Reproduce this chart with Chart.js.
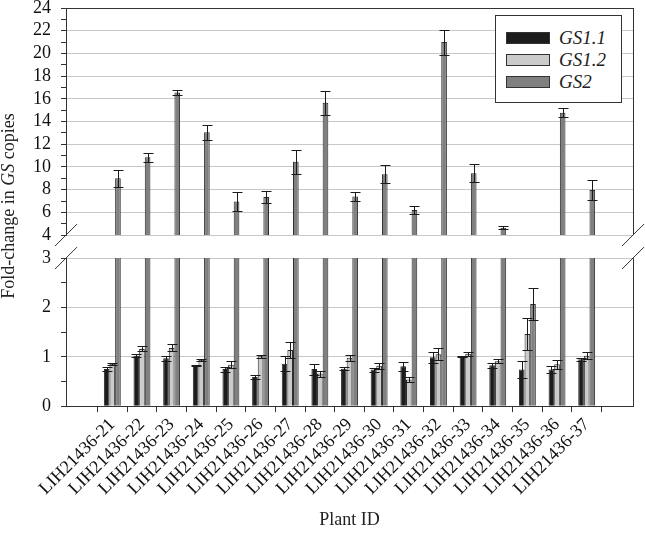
<!DOCTYPE html>
<html>
<head>
<meta charset="utf-8">
<script src="https://cdn.jsdelivr.net/npm/chart.js@4.4.1/dist/chart.umd.min.js"></script>
<style>
  html, body { margin: 0; padding: 0; background: #fff; }
  #wrap { position: relative; width: 645px; height: 540px; overflow: hidden; }
  #chart { position: absolute; left: 0; top: -11px; }
  #ytitle {
    position: absolute; left: -101px; top: 195px; width: 220px; height: 22px;
    line-height: 22px; text-align: center; white-space: nowrap;
    font: 18px "Liberation Serif", serif; color: #222;
    transform: rotate(-90deg); transform-origin: 50% 50%;
  }
  #legend {
    position: absolute; left: 495px; top: 15px; width: 125px; height: 86px;
    border: 1px solid #333; background: #fff;
  }
  .item { position: absolute; left: 10px; height: 22px; }
  .sw { position: absolute; left: 0; top: 5px; width: 42px; height: 10px; border: 1px solid #333; }
  .lb { position: absolute; left: 53px; top: 0; line-height: 22px; white-space: nowrap;
        font: italic 19px "Liberation Serif", serif; color: #222; }
</style>
</head>
<body>
<div id="wrap">
  <canvas id="chart" width="645" height="551"></canvas>
  <div id="ytitle">Fold-change in <i>GS</i> copies</div>
  <div id="legend"></div>
</div>
<script>
const plantIds = ['LIH21436-21', 'LIH21436-22', 'LIH21436-23', 'LIH21436-24', 'LIH21436-25',
  'LIH21436-26', 'LIH21436-27', 'LIH21436-28', 'LIH21436-29', 'LIH21436-30', 'LIH21436-31',
  'LIH21436-32', 'LIH21436-33', 'LIH21436-34', 'LIH21436-35', 'LIH21436-36', 'LIH21436-37'];

const gs11    = [0.75, 1.02, 0.97, 0.82, 0.75, 0.59, 0.86, 0.75, 0.76, 0.74, 0.81, 0.99, 1.01, 0.83, 0.74, 0.74, 0.95];
const gs11Err = [0.04, 0.03, 0.05, 0.01, 0.05, 0.04, 0.15, 0.11, 0.03, 0.04, 0.09, 0.11, 0.01, 0.05, 0.17, 0.07, 0.03];
const gs12    = [0.86, 1.16, 1.18, 0.94, 0.84, 1.01, 1.14, 0.66, 0.98, 0.82, 0.54, 1.05, 1.06, 0.91, 1.46, 0.85, 1.02];
const gs12Err = [0.02, 0.05, 0.07, 0.02, 0.07, 0.03, 0.16, 0.06, 0.06, 0.06, 0.06, 0.12, 0.04, 0.04, 0.33, 0.09, 0.07];
const gs2     = [9.0, 10.85, 16.55, 13.05, 6.95, 7.35, 10.45, 15.65, 7.4, 9.35, 6.2, 21.0, 9.45, 4.65, 2.07, 14.77, 7.97];
const gs2Err  = [0.75, 0.4, 0.25, 0.65, 0.85, 0.5, 1.05, 1.05, 0.4, 0.8, 0.35, 1.1, 0.8, 0.15, 0.33, 0.38, 0.9];

const seriesNames = ['GS1.1', 'GS1.2', 'GS2'];
const fills = ['#1c1c1c', '#cbcbcb', '#808080'];
const edge = '#2a2a2a';
const gridGray = '#c8c8c8';
const axisColor = '#333';
const serif = '"Liberation Serif", "Times New Roman", serif';

// legend (html so it can sit inside the plot like the original)
const legendEl = document.getElementById('legend');
seriesNames.forEach((name, i) => {
  const it = document.createElement('div');
  it.className = 'item';
  it.style.top = (11 + i * 22) + 'px';
  it.innerHTML = '<div class="sw" style="background:' + fills[i] + '"></div><div class="lb">' + name + '</div>';
  legendEl.appendChild(it);
});

const pts = vals => vals.map((v, i) => ({ x: i + 1, y: v }));

function barSet(label, vals, errs, color, axis, stack) {
  return {
    label: label, data: pts(vals), errors: errs, yAxisID: axis, stack: stack,
    backgroundColor: color, borderColor: edge, borderWidth: 1,
    barPercentage: 1, categoryPercentage: 0.57
  };
}

// clip each dataset to its own y panel and draw its error bars
const panelClip = {
  id: 'panelClip',
  beforeDatasetDraw(chart, args) {
    const ys = chart.scales[args.meta.yAxisID];
    const ctx = chart.ctx;
    ctx.save();
    ctx.beginPath();
    ctx.rect(chart.chartArea.left, ys.top, chart.chartArea.width, ys.bottom - ys.top);
    ctx.clip();
  },
  afterDatasetDraw(chart, args) {
    const ctx = chart.ctx;
    const ds = chart.data.datasets[args.index];
    const ys = chart.scales[args.meta.yAxisID];
    ctx.strokeStyle = '#1a1a1a';
    ctx.lineWidth = 1;
    args.meta.data.forEach((bar, i) => {
      const v = ds.data[i].y, e = ds.errors[i];
      const x = Math.round(bar.x) + 0.5;
      const yt = Math.round(ys.getPixelForValue(v + e)) + 0.5;
      const yb = Math.round(ys.getPixelForValue(v - e)) + 0.5;
      ctx.beginPath();
      ctx.moveTo(x, yt); ctx.lineTo(x, yb);
      ctx.moveTo(x - 5, yt); ctx.lineTo(x + 5, yt);
      ctx.moveTo(x - 5, yb); ctx.lineTo(x + 5, yb);
      ctx.stroke();
    });
    ctx.restore();
  },
  afterDraw(chart) {
    const ctx = chart.ctx;
    const a = chart.chartArea;
    const hi = chart.scales.yHigh, lo = chart.scales.yLow;
    ctx.save();
    ctx.strokeStyle = axisColor;
    ctx.lineWidth = 1;
    ctx.beginPath();
    const r = Math.round(a.right) + 0.5;
    ctx.moveTo(r, hi.top); ctx.lineTo(r, hi.bottom);
    ctx.moveTo(r, lo.top); ctx.lineTo(r, lo.bottom);
    // axis break marks
    [a.left, a.right].forEach(x => {
      [hi.bottom, lo.top].forEach(y => {
        ctx.moveTo(x - 11, y + 11); ctx.lineTo(x + 11, y - 11);
      });
    });
    ctx.stroke();
    ctx.restore();
  }
};

const tickFont = { family: serif, size: 18, lineHeight: 1 };

new Chart(document.getElementById('chart'), {
  type: 'bar',
  data: {
    datasets: [
      barSet(seriesNames[0], gs11, gs11Err, fills[0], 'yLow', 's1'),
      barSet(seriesNames[1], gs12, gs12Err, fills[1], 'yLow', 's2'),
      barSet(seriesNames[2], gs2, gs2Err, fills[2], 'yLow', 's3'),
      barSet(seriesNames[2], gs2, gs2Err, fills[2], 'yHigh', 's3')
    ]
  },
  options: {
    responsive: false,
    animation: false,
    layout: { padding: { left: 0, right: 12, top: 0, bottom: 9 } },
    plugins: { legend: { display: false }, tooltip: { enabled: false } },
    scales: {
      x: {
        type: 'linear', min: 0, max: 18,
        afterBuildTicks: axis => { axis.ticks = plantIds.map((_, i) => ({ value: i + 1 })); },
        ticks: {
          autoSkip: false, minRotation: 45, maxRotation: 45, padding: 2,
          color: '#111', font: { family: serif, size: 18 },
          callback: v => plantIds[v - 1] || ''
        },
        grid: { drawOnChartArea: false, tickLength: 6, color: axisColor },
        border: { color: axisColor },
        title: { display: true, text: 'Plant ID', color: '#222', font: { family: serif, size: 18 }, padding: { top: 8, bottom: 0 } }
      },
      yLow: {
        type: 'linear', position: 'left', stack: 'y', stackWeight: 148,
        min: 0, max: 3,
        afterFit: s => { s.width = 66; },
        ticks: { stepSize: 0.5, autoSkip: false, padding: 10, color: '#111', font: tickFont,
          callback: v => Number.isInteger(v) ? v : '' },
        grid: { tickLength: 5, tickColor: axisColor,
          color: c => (c.tick && Number.isInteger(c.tick.value) && c.tick.value > 0) ? gridGray : 'rgba(0,0,0,0)' },
        border: { color: axisColor }
      },
      yGap: {
        type: 'linear', position: 'left', stack: 'y', stackWeight: 23,
        afterFit: s => { s.width = 66; },
        ticks: { display: false }, grid: { display: false }, border: { display: false }
      },
      yHigh: {
        type: 'linear', position: 'left', stack: 'y', stackWeight: 227,
        min: 4, max: 24,
        afterFit: s => { s.width = 66; },
        ticks: { stepSize: 1, autoSkip: false, padding: 10, color: '#111', font: tickFont,
          callback: v => v % 2 === 0 ? v : '' },
        grid: { tickLength: 5, tickColor: axisColor,
          color: c => {
            if (!c.tick) return 'rgba(0,0,0,0)';
            if (c.tick.value === 24) return axisColor;
            return c.tick.value % 2 === 0 ? gridGray : 'rgba(0,0,0,0)';
          } },
        border: { color: axisColor }
      }
    }
  },
  plugins: [panelClip]
});
</script>
</body>
</html>
